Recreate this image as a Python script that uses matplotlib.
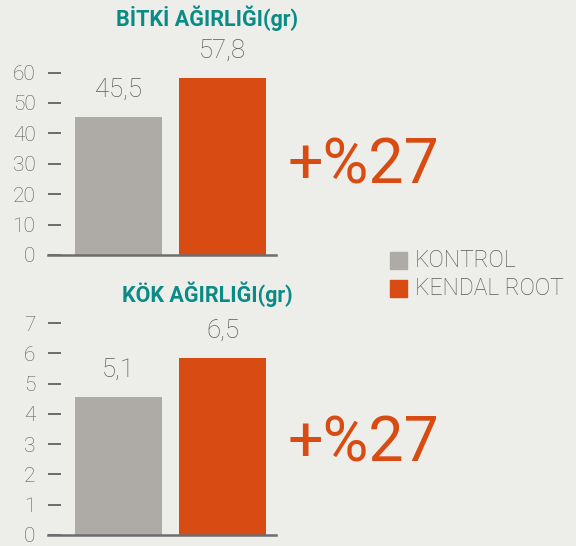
import matplotlib
matplotlib.use('Agg')
import matplotlib.pyplot as plt

# data
groups = ['KONTROL', 'KENDAL ROOT']
bitki_heights = [45.4, 58.1]
bitki_labels = ['45,5', '57,8']
kok_heights = [4.55, 5.85]
kok_labels = ['5,1', '6,5']
bitki_ticks = [0, 10, 20, 30, 40, 50, 60]
kok_ticks = [0, 1, 2, 3, 4, 5, 6, 7]
increase_text = '+%27'

bg = '#edeeea'
bar_colors = ['#aeaaa5', '#d84c13']
text_gray = '#5a5a5a'
teal = '#0b8b86'
plt.rcParams['font.family'] = ['Roboto', 'DejaVu Sans']

fig = plt.figure(figsize=(5.76, 5.46), dpi=100, facecolor=bg)

def draw(rect, heights, labels, ticks, ymax, title, title_y):
    ax = fig.add_axes(rect)
    ax.set_facecolor(bg)
    x = [0, 1]
    ax.bar(x, heights, width=0.837, color=bar_colors)
    ax.set_xlim(-0.678, 1.514)
    ax.set_ylim(0, ymax)
    for s in ['top', 'right', 'left']:
        ax.spines[s].set_visible(False)
    ax.spines['bottom'].set_color('#6d6d6d')
    ax.spines['bottom'].set_linewidth(1.8)
    ax.set_xticks([])
    ax.set_yticks(ticks)
    ax.tick_params(axis='y', direction='in', length=9, width=1.2, color='#555555',
                   pad=9, labelsize=15, labelcolor=text_gray)
    for lab in ax.get_yticklabels():
        lab.set_fontweight('light')
    for xi, h, t in zip(x, heights, labels):
        ax.annotate(t, (xi, h), xytext=(0, 11), textcoords='offset points',
                    ha='center', va='bottom', fontsize=18.5, color=text_gray,
                    fontweight='light', annotation_clip=False)
    fig.text(207 / 576, 1 - title_y / 546, title, ha='center', va='center',
             fontsize=15.5, fontweight='bold', color=teal)
    return ax

ax1 = draw([48 / 576, 291 / 546, 228 / 576, 197.6 / 546], bitki_heights, bitki_labels,
           bitki_ticks, 65, 'BİTKİ AĞIRLIĞI(gr)', 18)
ax2 = draw([48 / 576, 11 / 546, 228 / 576, 221 / 546], kok_heights, kok_labels,
           kok_ticks, 7.3, 'KÖK AĞIRLIĞI(gr)', 294)

fig.text(288 / 576, 1 - 166 / 546, increase_text, ha='left', va='center',
         fontsize=45, color=bar_colors[1])
fig.text(288 / 576, 1 - 445 / 546, increase_text, ha='left', va='center',
         fontsize=45, color=bar_colors[1])

# legend
for i, (g, c) in enumerate(zip(groups, bar_colors)):
    yc = 260 + i * 28.5
    fig.patches.append(plt.Rectangle((390 / 576, 1 - (yc + 8.5) / 546), 17 / 576, 17 / 546,
                                     transform=fig.transFigure, color=c, figure=fig))
    fig.text(415 / 576, 1 - yc / 546, g, ha='left', va='center', fontsize=16.5,
             color=text_gray, fontweight='light')

fig.savefig('out.png', dpi=100, facecolor=bg)
